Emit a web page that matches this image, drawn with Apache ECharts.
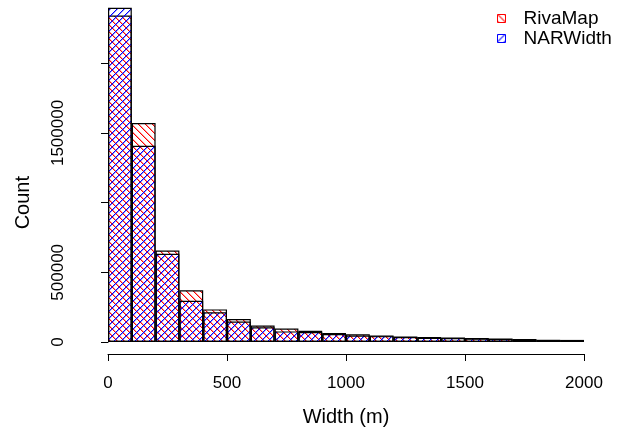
<!DOCTYPE html>
<html>
<head>
<meta charset="utf-8">
<script src="https://cdn.jsdelivr.net/npm/echarts@6/dist/echarts.min.js"></script>
<style>
html,body{margin:0;padding:0;background:#fff;}
#chart{width:634px;height:432px;}
</style>
</head>
<body>
<div id="chart"></div>
<script>
// Histogram bins (m), 100 m wide
var binStarts = [0,100,200,300,400,500,600,700,800,900,1000,1100,1200,1300,1400,1500,1600,1700,1800,1900];
var rivaMap = [2343000,1571000,657000,371000,234000,165000,118000,97000,80000,64000,55000,47000,40000,35000,33000,28000,26000,21000,16000,15000];
var narWidth = [2399000,1408000,633000,296000,213000,147000,106000,76000,71000,57000,47000,42000,35000,31000,28000,25000,21000,18000,14000,14000];
var xTicks = [0,500,1000,1500,2000];
var yLabelled = [0,500000,1500000];

function hatch(rgb, dir) {
  var s = 7;
  var c = document.createElement('canvas');
  c.width = s; c.height = s;
  var g = c.getContext('2d');
  for (var i = 0; i < s; i++) {
    var y = dir === '/' ? (s - 1 - i) : i;
    g.fillStyle = 'rgba(' + rgb + ',1)';
    g.fillRect(i, y, 1, 1);
    g.fillStyle = 'rgba(' + rgb + ',0.4)';
    g.fillRect((i + 1) % s, y, 1, 1);
  }
  return {image: c, repeat: 'repeat'};
}

var redHatch = hatch('255,0,0', '\\');
var blueHatch = hatch('0,0,255', '/');
var font = 'Liberation Sans, Arial, Helvetica, sans-serif';

var chart = echarts.init(document.getElementById('chart'));
chart.setOption({
  animation: false,
  backgroundColor: '#ffffff',
  grid: {left: 108, right: 50, top: 63.3, bottom: 86.2, containLabel: false},
  legend: {
    orient: 'vertical', left: 497, top: 9, padding: 0,
    itemWidth: 8, itemHeight: 8, itemGap: 1, icon: 'rect',
    textStyle: {fontFamily: font, fontSize: 19, color: '#000', padding: [0,0,0,13], lineHeight: 19},
    data: [
      {name: 'RivaMap', itemStyle: {color: redHatch, borderColor: '#ff0000', borderWidth: 1}},
      {name: 'NARWidth', itemStyle: {color: blueHatch, borderColor: '#0000ff', borderWidth: 1}}
    ]
  },
  xAxis: [
    {type: 'category', data: binStarts, boundaryGap: true, show: false},
    {type: 'value', min: 0, max: 2000, interval: 500, position: 'bottom', offset: 12,
     name: 'Width (m)', nameLocation: 'middle', nameGap: 53,
     nameTextStyle: {fontFamily: font, fontSize: 20, color: '#000'},
     axisLine: {show: true, lineStyle: {color: '#000', width: 1}},
     axisTick: {show: true, length: 7, lineStyle: {color: '#000'}},
     axisLabel: {fontFamily: font, fontSize: 17, color: '#000', margin: 21,
       formatter: function (v) { return xTicks.indexOf(v) >= 0 ? String(v) : ''; }},
     splitLine: {show: false}}
  ],
  yAxis: {
    type: 'value', min: 0, max: 2000000, interval: 500000, offset: 19,
    name: 'Count', nameLocation: 'middle', nameGap: 56,
    nameTextStyle: {fontFamily: font, fontSize: 20, color: '#000'},
    axisLine: {show: true, lineStyle: {color: '#000', width: 1}},
    axisTick: {show: true, length: 7, lineStyle: {color: '#000'}},
    axisLabel: {fontFamily: font, fontSize: 17, color: '#000', rotate: 90, margin: 22,
      formatter: function (v) { return yLabelled.indexOf(v) >= 0 ? String(v) : ''; }},
    splitLine: {show: false}
  },
  series: [
    {name: 'RivaMap', type: 'bar', xAxisIndex: 0, data: rivaMap, barWidth: '100%', barGap: '-100%',
     clip: false, itemStyle: {color: redHatch, borderColor: '#000', borderWidth: 1.2}},
    {name: 'NARWidth', type: 'bar', xAxisIndex: 0, data: narWidth, barWidth: '100%', barGap: '-100%',
     clip: false, itemStyle: {color: blueHatch, borderColor: '#000', borderWidth: 1.2}}
  ]
});
</script>
</body>
</html>
